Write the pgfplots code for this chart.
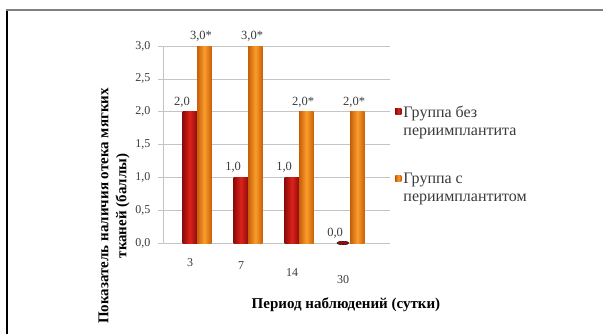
\documentclass[border=0pt]{standalone}
\usepackage{pgfplots}
\pgfplotsset{compat=1.18}
\usepackage{fontspec}
\setmainfont{Liberation Serif}

\definecolor{redmid}{HTML}{DC231B}
\definecolor{reddark}{HTML}{8E0B0B}
\definecolor{orgmid}{HTML}{FB9D2C}
\definecolor{orgdark}{HTML}{C65F08}
\definecolor{txt}{HTML}{3A3A3A}
\definecolor{gridc}{HTML}{C4C4C4}

% cylinder-like bars: each bar is its own plot so that it gets its own shading
\pgfplotsset{
  redbar/.style={ybar, bar shift=-7.25pt, draw=none,
    left color=reddark, right color=reddark, middle color=redmid,
    nodes near coords,
    every node near coord/.append style={anchor=south, xshift=-15pt, yshift=1pt}},
  orgbar/.style={ybar, bar shift=7.25pt, draw=none,
    left color=orgdark, right color=orgdark, middle color=orgmid,
    nodes near coords={\pgfmathprintnumber{\pgfplotspointmeta}*},
    every node near coord/.append style={anchor=south, xshift=4pt, yshift=1pt}},
}

\begin{document}
\begin{tikzpicture}[x=1pt,y=1pt]
\useasboundingbox (0,0) rectangle (603,333);
% frame around the figure
\draw[black, line width=1.7pt] (7,-10) -- (7,323.5);
\draw[gray, line width=1.4pt] (6.2,323) -- (615,323);

\begin{axis}[
  scale only axis, width=227pt, height=197pt,
  at={(163pt,90pt)}, anchor=south west,
  clip=false,
  xmin=-0.667, xmax=3.78, ymin=0, ymax=3,
  bar width=14.5pt,
  xtick={0,1,2,3},
  xticklabels={3,\raisebox{-3pt}{7},\raisebox{-10pt}{14},\raisebox{-17pt}{30}},
  ytick={0,0.5,1,1.5,2,2.5,3},
  axis x line*=bottom, axis y line*=left,
  axis line style={gridc, line width=0.6pt},
  ymajorgrids, grid style={gridc, line width=0.6pt},
  xtick style={draw=none},
  ytick style={draw=gridc, line width=0.6pt},
  tick align=outside, major tick length=5pt,
  /pgf/number format/.cd, fixed, fixed zerofill, precision=1, use comma, assume math mode=true,
  /pgfplots/.cd,
  tick label style={font=\fontsize{12}{14}\selectfont, text=txt},
  yticklabel style={xshift=-4pt},
  xticklabel style={anchor=base, xshift=-7pt, yshift=-18pt},
  xlabel={Период наблюдений (сутки)},
  xlabel style={at={(axis description cs:0.806,-0.315)}, anchor=center,
    font=\bfseries\fontsize{15}{18}\selectfont},
  ylabel={Показатель наличия отека мягких\\тканей (баллы)},
  ylabel style={at={(axis description cs:-0.216,0.188)}, anchor=center,
    align=center, font=\bfseries\fontsize{15}{18}\selectfont},
  nodes near coords style={font=\fontsize{12.5}{14}\selectfont, text=txt},
  legend style={draw=none, fill=none, at={(1.01,0.72)}, anchor=north west,
    font=\fontsize{16}{18}\selectfont, text=txt, row sep=32pt,
    cells={align=left, anchor=north west}},
]
% Группа без периимплантита
\addplot[redbar,
  legend image code/.code={\path (0pt,0pt) -- (6pt,0pt); \fill[redmid!85!black] (0pt,-5pt) rectangle (6pt,-11pt);}]
  coordinates {(0,2.0)};
\addlegendentry{Группа без\\периимплантита}
\addplot[redbar, forget plot] coordinates {(1,1.0)};
\addplot[redbar, forget plot] coordinates {(2,1.0)};
\addplot[redbar, forget plot] coordinates {(3,0.0)};
% flat top of the zero-height cylinder
\addplot[only marks, forget plot, mark=*, mark size=6pt,
  mark options={draw=none, fill=reddark!90!redmid, yscale=0.3, xshift=-7.25pt}]
  coordinates {(3,0.0)};
% Группа с периимплантитом
\addplot[orgbar,
  legend image code/.code={\path (0pt,0pt) -- (6pt,0pt); \fill[orgmid] (0pt,-5pt) rectangle (6pt,-11pt);}]
  coordinates {(0,3.0)};
\addlegendentry{Группа с\\периимплантитом}
\addplot[orgbar, forget plot] coordinates {(1,3.0)};
\addplot[orgbar, forget plot] coordinates {(2,2.0)};
\addplot[orgbar, forget plot] coordinates {(3,2.0)};
\end{axis}
\end{tikzpicture}
\end{document}
